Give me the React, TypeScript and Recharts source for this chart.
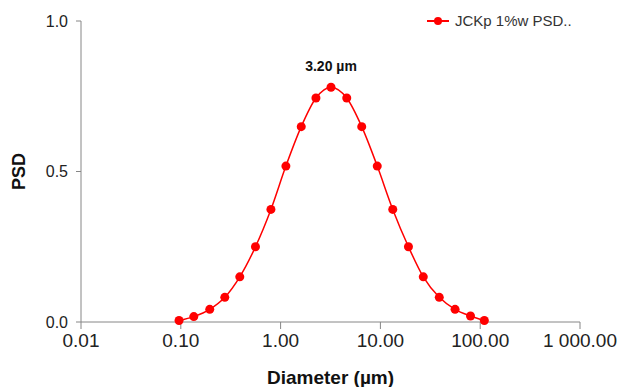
import React from "react";
import { LineChart, Line, XAxis, YAxis, ReferenceDot } from "recharts";

// diameters (µm) and PSD values of the measured distribution
const diameters = [
  0.096, 0.135, 0.195, 0.276, 0.39, 0.56, 0.8, 1.13, 1.61, 2.26, 3.2, 4.6, 6.5,
  9.3, 13.3, 19.1, 26.9, 38.9, 56, 80, 110,
];
const psd = [
  0.005, 0.018, 0.042, 0.082, 0.15, 0.25, 0.374, 0.518, 0.649, 0.744, 0.78,
  0.744, 0.649, 0.518, 0.374, 0.25, 0.15, 0.082, 0.042, 0.02, 0.005,
];
const xTicks = [0.01, 0.1, 1, 10, 100, 1000];
const yTicks = [0, 0.5, 1];
const seriesName = "JCKp 1%w PSD..";

const data = diameters.map((d, i) => ({ d, psd: psd[i] }));
const peakIdx = psd.indexOf(Math.max(...psd));
const peak = data[peakIdx];

const RED = "#ff0000";
const AXIS = "#868686";
const FONT = "'Liberation Sans', Arial, sans-serif";

function fmtX(v: number) {
  const [int, dec] = v.toFixed(2).split(".");
  return int.replace(/\B(?=(\d{3})+(?!\d))/g, " ") + "." + dec;
}

// legend sits over the top-right corner, outside the chart's layout
function PsdLegend() {
  return (
    <div
      style={{
        position: "absolute",
        left: 427,
        top: 12,
        display: "flex",
        alignItems: "center",
        fontFamily: FONT,
        fontSize: 15,
        color: "#333",
        whiteSpace: "nowrap",
      }}
    >
      <svg width={22} height={10} style={{ marginRight: 6 }}>
        <line x1={0} y1={5} x2={22} y2={5} stroke={RED} strokeWidth={2} />
        <circle cx={11} cy={5} r={4} fill={RED} />
      </svg>
      {seriesName}
    </div>
  );
}

export default function App() {
  return (
    <div style={{ position: "absolute", left: 0, top: 0, background: "#fff" }}>
      <LineChart
        width={620}
        height={387}
        data={data}
        margin={{ top: 21, right: 40, bottom: 0, left: 0 }}
      >
        <XAxis
          dataKey="d"
          type="number"
          scale="log"
          domain={[0.01, 1000]}
          ticks={xTicks}
          tickFormatter={fmtX}
          allowDataOverflow
          stroke={AXIS}
          tickSize={7}
          tickMargin={5}
          height={65}
          tick={{ fill: "#222", fontSize: 19, fontFamily: FONT }}
          label={{
            value: "Diameter (µm)",
            position: "insideBottom",
            offset: 3,
            fill: "#111",
            fontSize: 19,
            fontWeight: "bold",
            fontFamily: FONT,
          }}
        />
        <YAxis
          type="number"
          domain={[0, 1]}
          ticks={yTicks}
          tickFormatter={(v: number) => v.toFixed(1)}
          stroke={AXIS}
          width={81}
          tickSize={5}
          tickMargin={8}
          tick={{ fill: "#222", fontSize: 16, fontFamily: FONT }}
          label={{
            content: ({ viewBox }: any) => {
              const cx = 19;
              const cy = viewBox.y + viewBox.height / 2;
              return (
                <text
                  x={cx}
                  y={cy}
                  transform={`rotate(-90, ${cx}, ${cy})`}
                  textAnchor="middle"
                  dominantBaseline="central"
                  fontFamily={FONT}
                  fontSize={18}
                  fontWeight="bold"
                  fill="#111"
                >
                  PSD
                </text>
              );
            },
          }}
        />
        <Line
          type="monotone"
          dataKey="psd"
          name={seriesName}
          stroke={RED}
          strokeWidth={1.5}
          dot={{ r: 4.5, fill: RED, stroke: RED, strokeWidth: 0 }}
          isAnimationActive={false}
        />
        <ReferenceDot
          x={peak.d}
          y={peak.psd}
          r={0}
          label={{
            value: `${peak.d.toFixed(2)} µm`,
            position: "top",
            offset: 16,
            fill: "#111",
            fontSize: 14,
            fontWeight: "bold",
            fontFamily: FONT,
          }}
        />
      </LineChart>
      <PsdLegend />
    </div>
  );
}
